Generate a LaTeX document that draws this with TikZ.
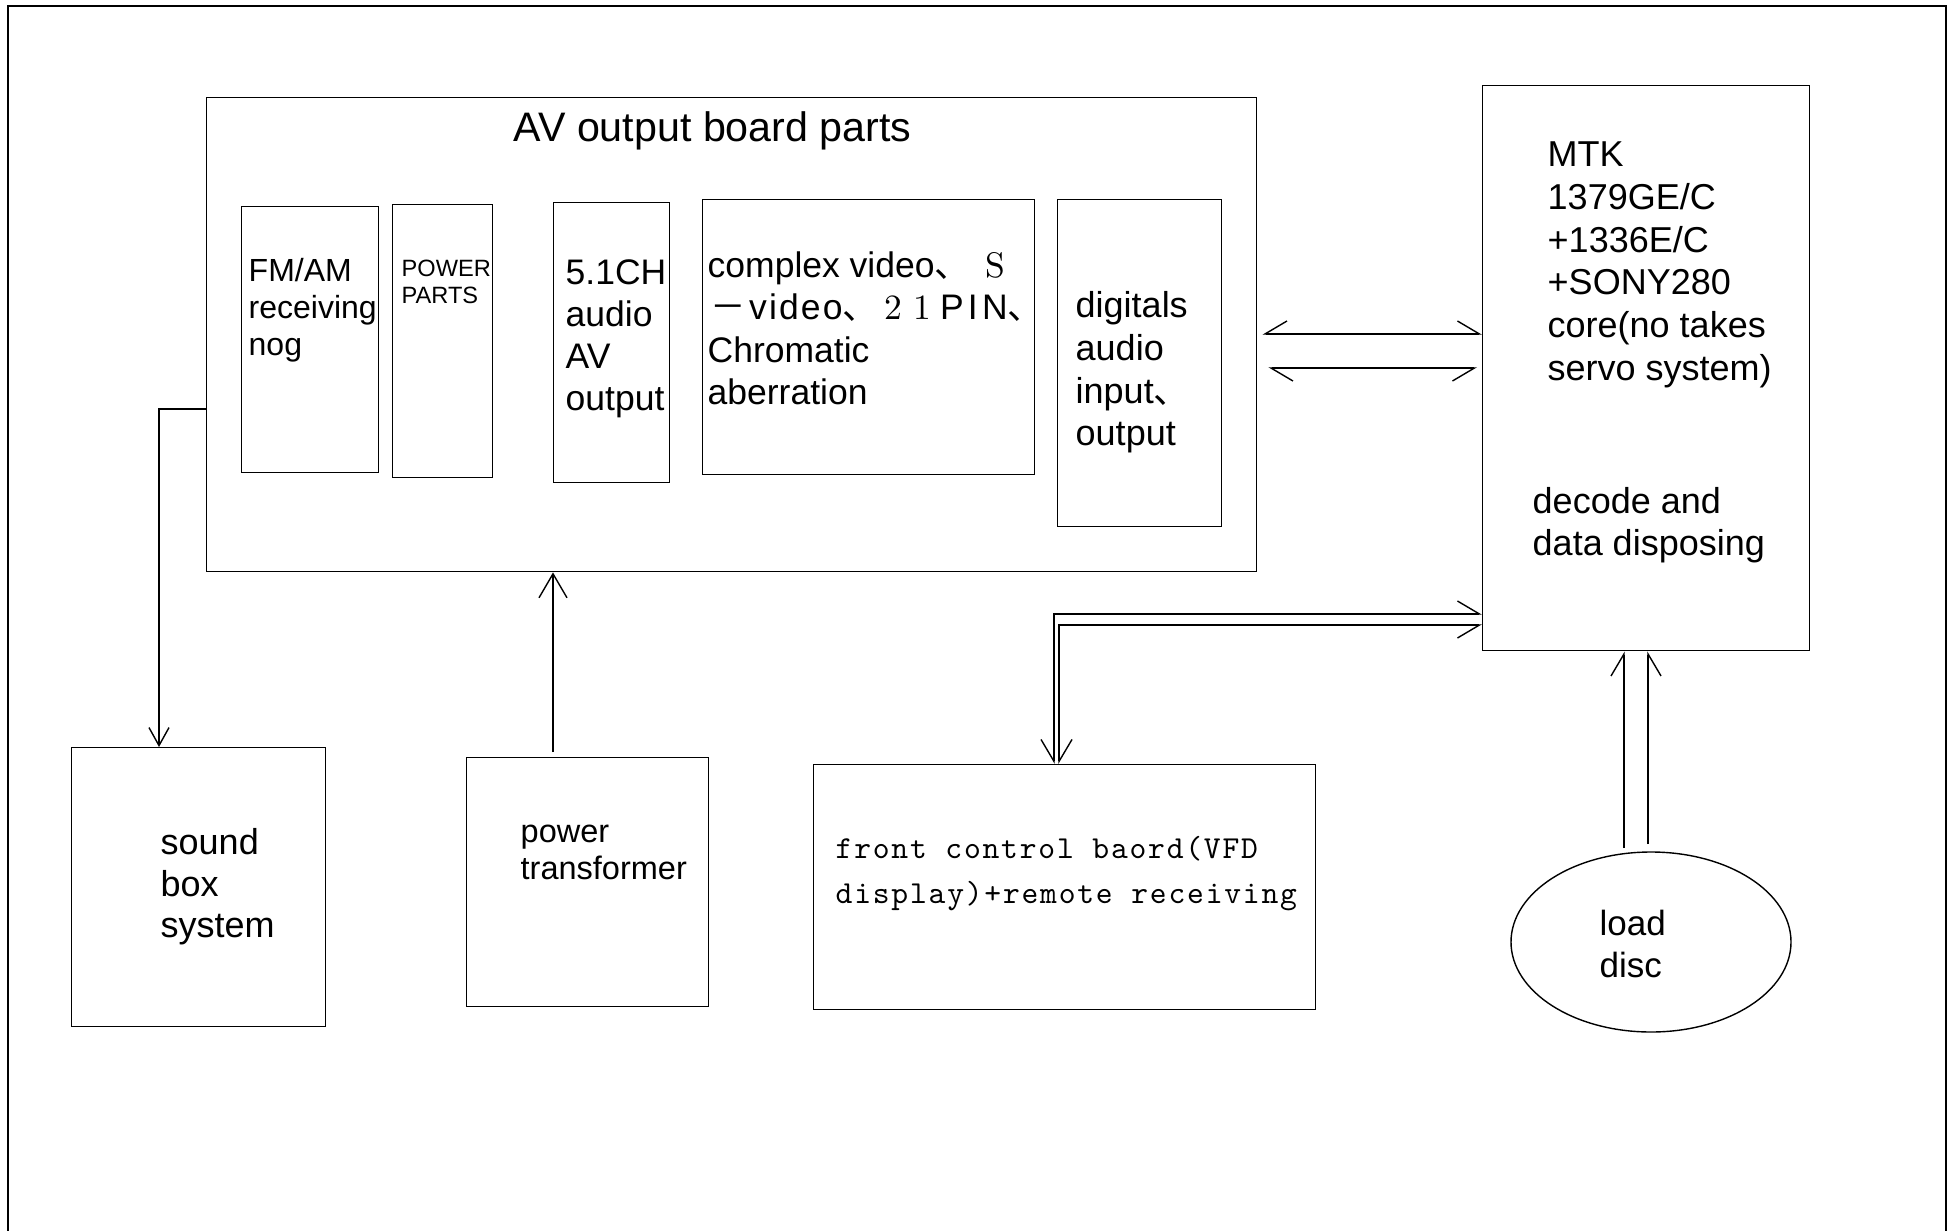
\documentclass[tikz,border=0pt]{standalone}
\usepackage{fontspec}
\setmainfont{Liberation Sans}
\newfontfamily\cjk{Noto Sans CJK SC}
\newfontfamily\lmr{lmroman10-regular.otf}
\newfontfamily\lmtt{lmmono10-regular.otf}[LetterSpace=5.6]
\usetikzlibrary{arrows.meta,shapes.geometric}
\newcommand\fsz[2]{\fontsize{#1}{#2}\selectfont}
\tikzset{
  box/.style={draw, rectangle, inner sep=0pt, anchor=north west},
  txt/.style={inner sep=0pt, align=left, anchor=north west},
  hl/.tip={Straight Barb[harpoon,length=22pt,width=26pt]},
  hr/.tip={Straight Barb[harpoon,swap,length=22pt,width=26pt]},
  vt/.tip={Straight Barb[length=24pt,width=28pt]},
  vs/.tip={Straight Barb[length=18pt,width=20pt]},
}
\begin{document}
\begin{tikzpicture}[x=1pt,y=-1pt,line width=1.4pt]
\useasboundingbox (0,0) rectangle (1959,1231);
% outer frame
\draw[line width=1.6pt] (8,1231) -- (8,6) -- (1946,6) -- (1946,1231);
% boxes
\node[box, minimum width=1050pt, minimum height=474pt] (av) at (206,97) {};
\node[box, minimum width=137pt, minimum height=266pt] (fm) at (241,206) {};
\node[box, minimum width=100pt, minimum height=273pt] (pw) at (392,204) {};
\node[box, minimum width=116pt, minimum height=280pt] (ch) at (553,202) {};
\node[box, minimum width=332pt, minimum height=275pt] (cv) at (702,199) {};
\node[box, minimum width=164pt, minimum height=327pt] (dg) at (1057,199) {};
\node[box, minimum width=327pt, minimum height=565pt] (mtk) at (1482,85) {};
\node[box, minimum width=254pt, minimum height=279pt] (snd) at (71,747) {};
\node[box, minimum width=242pt, minimum height=249pt] (ptr) at (466,757) {};
\node[box, minimum width=502pt, minimum height=245pt] (fc) at (813,764) {};
\node[draw, ellipse, inner sep=0pt, minimum width=280pt, minimum height=180pt] (disc) at (1651,942) {};
% texts
\node[anchor=base west, inner sep=0pt, font=\fsz{41.2}{47}] (title) at (513,141) {AV output board parts};
\node[txt, font=\fsz{32}{37}] (fmt) at (248,258) {FM/AM\\receiving\\nog};
\node[txt, font=\fsz{23.6}{27}] (pwt) at (401,259) {POWER\\PARTS};
\node[txt, font=\fsz{35.5}{42}] (cht) at (565,259) {5.1CH\\audio\\AV\\output};
\node[txt, font=\fsz{35.5}{42.5}] (cvt) at (707,251) {complex video{\cjk 、}\hspace{15pt}{\lmr S}\\\hspace{3pt}{\cjk －}\hspace{3pt}{\addfontfeatures{LetterSpace=6}video}{\cjk 、}\hspace{6pt}{\lmr 2\hspace{11.5pt}1}\hspace{9pt}{\addfontfeatures{LetterSpace=12}PIN}{\cjk 、}\\Chromatic\\aberration};
\node[txt, font=\fsz{36}{42.7}] (dgt) at (1075,291) {digitals\\audio\\input{\cjk 、}\\output};
\node[txt, font=\fsz{36}{42.8}] (mtkt) at (1547,141) {MTK\\1379GE/C\\+1336E/C\\+SONY280\\core(no takes\\servo system)};
\node[txt, font=\fsz{36}{42}] (dect) at (1532,487) {decode and\\data disposing};
\node[txt, font=\fsz{36}{41.5}] (sndt) at (160,828) {sound\\box\\system};
\node[txt, font=\fsz{32.5}{37}] (ptrt) at (520,824) {power\\transformer};
\node[txt, font={\lmtt\fsz{32}{45}}] (fct) at (835,836) {front control baord(VFD\\display)+remote receiving};
\node[txt, font=\fsz{35}{42}] (disct) at (1599,909) {load\\disc};
% connectors AV <-> MTK
\draw[hr-hl, shorten <=5pt] (av.east |- 0,334) -- (mtk.west |- 0,334);
\draw[hl-hr, shorten <=11pt, shorten >=5pt] (av.east |- 0,368) -- (mtk.west |- 0,368);
% MTK <-> front control
\draw[hl-hr] (mtk.west |- 0,614) -| (fc.north -| 1054,0);
\draw[hr-hl] (mtk.west |- 0,625) -| (fc.north -| 1059,0);
% disc -> MTK
\coordinate (d1) at (1624,848);
\coordinate (d2) at (1648,844);
\draw[-hl] (d1) -- (mtk.south -| d1);
\draw[-hr] (d2) -- (mtk.south -| d2);
% AV -> sound box
\draw[-vs] (av.west |- 0,409) -| (snd.north -| 159,0);
% power transformer -> AV
\draw[-vt, shorten <=5pt] (ptr.north -| 553,0) -- (av.south -| 553,0);
\end{tikzpicture}
\end{document}
